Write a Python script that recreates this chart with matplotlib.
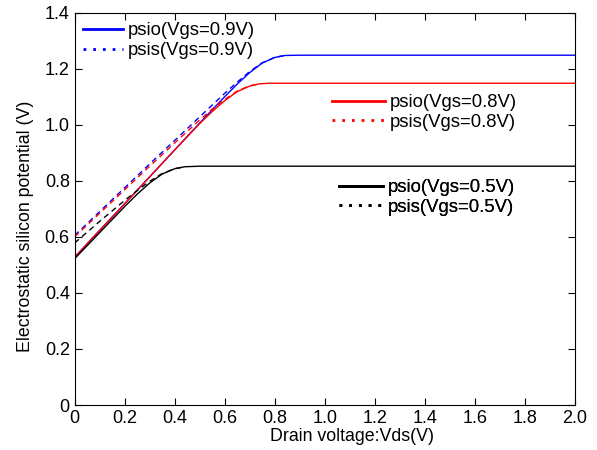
import matplotlib
matplotlib.use("Agg")
import matplotlib.pyplot as plt
from matplotlib.lines import Line2D

# ==========================================
# DATA
# ==========================================

# Vgs = 0.9 V
vds_o_09  = [0, 0, 0.1, 0.2, 0.3, 0.4, 0.5, 0.6, 0.65, 0.7, 0.75, 0.8, 0.84, 0.9, 1.0, 2.0]
psio_09   = [0, 0.527, 0.623, 0.718, 0.814, 0.910, 1.006, 1.100, 1.145, 1.186, 1.220, 1.240, 1.247, 1.248, 1.248, 1.248]
vds_s_09  = [0, 0.1, 0.2, 0.3, 0.4, 0.5, 0.6, 0.65, 0.7, 0.75, 0.8, 0.84]
psis_09   = [0.605, 0.690, 0.775, 0.860, 0.944, 1.028, 1.112, 1.152, 1.190, 1.221, 1.240, 1.247]

# Vgs = 0.8 V
vds_o_08  = [0, 0.1, 0.2, 0.3, 0.4, 0.5, 0.55, 0.6, 0.65, 0.7, 0.74, 0.78, 1.0, 2.0]
psio_08   = [0.527, 0.623, 0.718, 0.814, 0.910, 1.004, 1.047, 1.086, 1.118, 1.138, 1.146, 1.148, 1.148, 1.148]
vds_s_08  = [0, 0.1, 0.2, 0.3, 0.4, 0.5, 0.55, 0.6, 0.65, 0.7, 0.74]
psis_08   = [0.600, 0.684, 0.768, 0.852, 0.935, 1.017, 1.056, 1.090, 1.120, 1.139, 1.146]

# Vgs = 0.5 V
vds_o_05  = [0, 0.1, 0.2, 0.25, 0.3, 0.35, 0.4, 0.44, 0.5, 2.0]
psio_05   = [0.522, 0.615, 0.708, 0.752, 0.792, 0.824, 0.843, 0.850, 0.852, 0.852]
vds_s_05  = [0, 0.1, 0.2, 0.25, 0.3, 0.35, 0.4, 0.44]
psis_05   = [0.578, 0.655, 0.730, 0.765, 0.798, 0.826, 0.843, 0.850]

x_ticks   = [0, 0.2, 0.4, 0.6, 0.8, 1.0, 1.2, 1.4, 1.6, 1.8, 2.0]
x_labels  = ["0", "0.2", "0.4", "0.6", "0.8", "1.0", "1.2", "1.4", "1.6", "1.8", "2.0"]
y_ticks   = [0, 0.2, 0.4, 0.6, 0.8, 1.0, 1.2, 1.4]
y_labels  = ["0", "0.2", "0.4", "0.6", "0.8", "1.0", "1.2", "1.4"]

FS_TICK   = 13
FS_LABEL  = 12.8
FS_LEG    = 13.3
DASH      = (0, (4, 3))

# ==========================================
# PLOT
# ==========================================

plt.rcParams["font.family"] = ["Liberation Sans", "DejaVu Sans"]

fig = plt.figure(figsize=(5.97, 4.5), dpi=100)
ax = fig.add_axes([0.125, 0.1, 0.838, 0.872])

ax.plot(vds_o_09, psio_09, color="blue", lw=1.0)
ax.plot(vds_s_09, psis_09, color="blue", lw=1.0, ls=DASH)
ax.plot(vds_o_08, psio_08, color="red", lw=1.0)
ax.plot(vds_s_08, psis_08, color="red", lw=1.0, ls=DASH)
ax.plot(vds_o_05, psio_05, color="black", lw=1.0)
ax.plot(vds_s_05, psis_05, color="black", lw=1.0, ls=DASH)

ax.set_xlim(0, 2.0)
ax.set_ylim(0, 1.4)
ax.set_xticks(x_ticks)
ax.set_xticklabels(x_labels)
ax.set_yticks(y_ticks)
ax.set_yticklabels(y_labels)
ax.tick_params(direction="in", top=True, right=True, length=5, labelsize=FS_TICK)
ax.set_xlabel("Drain voltage:Vds(V)", fontsize=FS_LABEL)
ax.set_ylabel("Electrostatic silicon potential (V)", fontsize=FS_LABEL)
ax.xaxis.set_label_coords(0.555, -0.058)
ax.yaxis.set_label_coords(-0.082, 0.455)


def make_legend(color, vgs, anchor, hlen):
    handles = [Line2D([], [], color=color, lw=2.0),
               Line2D([], [], color=color, lw=2.0, ls=(0, (1, 2.5)))]
    labels = [f"psio(Vgs={vgs}V)", f"psis(Vgs={vgs}V)"]
    leg = ax.legend(handles, labels, loc="upper left", bbox_to_anchor=anchor,
                    frameon=False, fontsize=FS_LEG, handlelength=hlen,
                    handletextpad=0.27, borderpad=0, borderaxespad=0,
                    labelspacing=0.14)
    ax.add_artist(leg)
    return leg


make_legend("blue", "0.9", (0.017, 0.975), 2.16)
make_legend("red", "0.8", (0.514, 0.792), 2.86)
make_legend("black", "0.5", (0.528, 0.575), 2.4)

fig.savefig("out.png", dpi=100)
plt.close(fig)
